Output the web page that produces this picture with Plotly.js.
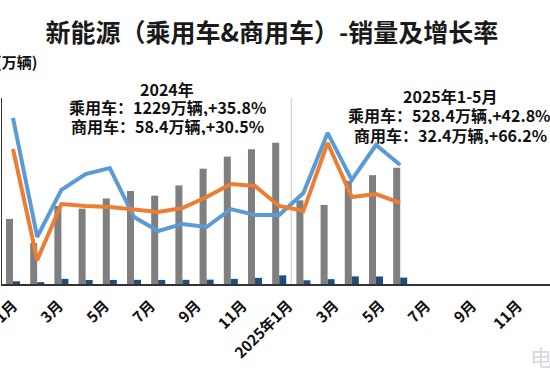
<!DOCTYPE html>
<html>
<head>
<meta charset="utf-8">
<script src="https://cdn.plot.ly/plotly-3.0.1.min.js"></script>
<style>html,body{margin:0;padding:0;background:#fff;}#chart{width:550px;height:378px;}</style>
</head>
<body>
<div id="chart"></div>
<script>
// ---- data ----
const monthLabels = ['1月','2月','3月','4月','5月','6月','7月','8月','9月','10月','11月','12月',
                     '2025年1月','2月','3月','4月','5月','6月','7月','8月','9月','10月','11月','12月'];
const monthIndex = monthLabels.map((_, i) => i);
// 万辆
const passengerSales  = [70, 44, 84, 81, 92, 100, 95, 106, 124, 137, 145, 152, 90, 85, 111, 117, 125];
const commercialSales = [2.9, 2.0, 5.5, 4.3, 4.4, 4.5, 4.4, 4.5, 4.7, 5.5, 6.6, 9.3, 4.0, 5.2, 8.2, 8.1, 6.9];
// 增长率 %
const passengerGrowth  = [80.0, -9.6, 25.8, 37.8, 42.3, 5.4, -5.1, 0.2, -2.1, 11.4, 6.9, 6.9, 23.5, 68.7, 33.3, 59.6, 44.6];
const commercialGrowth = [56.6, -27.0, 15.2, 13.7, 13.0, 11.4, 9.2, 12.2, 20.5, 30.3, 28.8, 13.7, 9.9, 61.1, 20.5, 22.7, 16.0];
const yearStartIndex = 12; // 2025年1月

const titleText = '新能源（乘用车&商用车）-销量及增长率';
const unitText = '(万辆)';
const note2024 = ['2024年', '乘用车：1229万辆,+35.8%', '商用车：58.4万辆,+30.5%'];
const note2025 = ['2025年1-5月', '乘用车：528.4万辆,+42.8%', '商用车：32.4万辆,+66.2%'];

// ---- chart ----
const W = 550, H = 378;
const FONT = 'Noto Sans CJK SC, Noto Sans, sans-serif';
const xs = passengerSales.map((_, i) => monthIndex[i]);
const tickIdx = monthIndex.filter(i => i % 2 === 0);

const traces = [
  {type:'bar', name:'乘用车销量', x: xs, y: passengerSales, marker:{color:'#7f7f7f'}, xaxis:'x', yaxis:'y'},
  {type:'bar', name:'商用车销量', x: xs, y: commercialSales, marker:{color:'#1f4e79'}, xaxis:'x', yaxis:'y'},
  {type:'scatter', mode:'lines', name:'乘用车增长率', x: xs, y: passengerGrowth,
   line:{color:'#5b9bd5', width:4}, xaxis:'x', yaxis:'y2'},
  {type:'scatter', mode:'lines', name:'商用车增长率', x: xs, y: commercialGrowth,
   line:{color:'#ed7d31', width:4}, xaxis:'x', yaxis:'y2'},
  {type:'scatter', mode:'markers', x: tickIdx, y: tickIdx.map(() => null), xaxis:'x2', yaxis:'y',
   showlegend:false, hoverinfo:'skip', marker:{opacity:0}}
];

function px2paperX(px){ return (px - 2) / (W - 2); }
function noteAnn(lines, cx, ys){
  return lines.map((t, k) => ({
    text: t, xref:'paper', yref:'paper', x: px2paperX(cx[k]), y: (284 - ys[k]) / 186,
    xanchor:'center', yanchor:'middle', showarrow:false, height:18,
    font:{family:FONT, size:16, color:'#111', weight:700}
  }));
}

const layout = {
  width: W, height: H,
  margin: {l:2, r:0, t:98, b:94, pad:0},
  paper_bgcolor:'#fff', plot_bgcolor:'rgba(0,0,0,0)',
  showlegend:false,
  barmode:'group', bargap:0.42, bargroupgap:0,
  title: {text: titleText, xref:'container', yref:'container', x: 272/W, y: 1 - 33/H,
          xanchor:'center', yanchor:'middle', font:{family:FONT, size:25, color:'#1a1a1a', weight:700}},
  xaxis: {type:'linear', range:[(2-13)/24.2, (550-13)/24.2], showline:true, linecolor:'#333', linewidth:1.5,
          showgrid:false, zeroline:false, showticklabels:false, ticks:''},
  xaxis2: {type:'linear', overlaying:'x', anchor:'y', side:'bottom',
           range:[(2-13)/22.95, (550-13)/22.95], showline:false, showgrid:false, zeroline:false, ticks:'',
           tickmode:'array', tickvals: tickIdx, ticktext: tickIdx.map(i => monthLabels[i]),
           tickangle:-45, ticklabelstandoff:9, ticklabeloverflow:'allow',
           tickfont:{family:FONT, size:15, color:'#111', weight:700}},
  yaxis: {range:[0, 200], showline:true, linecolor:'#333', linewidth:1.5, showgrid:false, zeroline:false,
          showticklabels:false, ticks:''},
  yaxis2: {range:[-45, 95], overlaying:'y', side:'right', showline:false, showgrid:false, zeroline:false,
           showticklabels:false, ticks:''},
  shapes: [{type:'line', xref:'x', yref:'paper', x0: yearStartIndex - 0.5, x1: yearStartIndex - 0.5, y0:0, y1:1,
            line:{color:'#d2d2d2', width:1.2}, layer:'below'}],
  annotations: [
    {text: unitText, xref:'paper', yref:'paper', x: px2paperX(39), y: (284 - 62) / 186, xanchor:'right', yanchor:'middle',
     showarrow:false, font:{family:FONT, size:15, color:'#111', weight:700}},
    ...noteAnn(note2024, [167, 167, 167], [89, 107, 126]),
    ...noteAnn(note2025, [450, 449, 450], [96, 115, 135]),
    {text:'电', xref:'paper', yref:'paper', x: px2paperX(541), y:(284 - 356) / 186, xanchor:'center', yanchor:'middle',
     showarrow:false, font:{family:FONT, size:22, color:'#d9d9d9'}}
  ]
};

Plotly.newPlot('chart', traces, layout, {staticPlot:true, displayModeBar:false});
</script>
</body>
</html>
